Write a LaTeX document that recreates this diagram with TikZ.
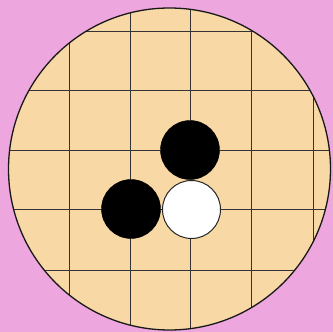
\documentclass[tikz,border=0pt]{standalone}
\usepackage{xcolor}
\usepackage{tikz}
\definecolor{bgpink}{RGB}{238,166,222}
\definecolor{boardtan}{RGB}{248,217,166}
\tikzset{
  blackstone/.style={circle,fill=black,draw=black,inner sep=0pt,minimum size=59pt},
  whitestone/.style={circle,fill=white,draw=black!85,line width=1pt,inner sep=0pt,minimum size=58pt}
}

\begin{document}
\begin{tikzpicture}[x=1pt,y=-1pt]
\fill[bgpink] (0,0) rectangle (333,332);
\useasboundingbox (0,0) rectangle (333,332);
\begin{scope}
\clip (169.5,169) circle (161);
\fill[boardtan] (169.5,169) circle (161);
\foreach \x in {69,130,190,251,313}{\draw[black!80,line width=0.9pt] (\x,0) -- (\x,332);}
\foreach \y in {31,90,150,209,270}{\draw[black!80,line width=0.9pt] (0,\y) -- (333,\y);}
\end{scope}
\draw[black!90,line width=1.3pt] (169.5,169) circle (161);
\node[blackstone] (b1) at (190,150) {};
\node[blackstone] (b2) at (131,209) {};
\node[whitestone] (w1) at (191.5,209.5) {};
\end{tikzpicture}
\end{document}
